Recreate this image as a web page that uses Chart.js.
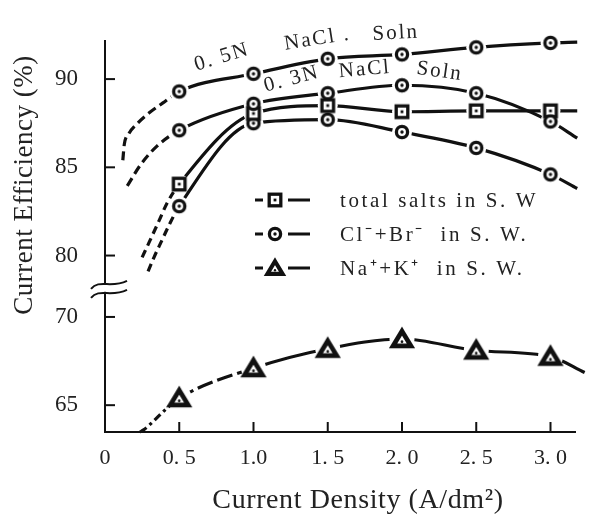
<!DOCTYPE html>
<html lang="en">
<head>
<meta charset="UTF-8" />
<title>Current Efficiency vs Current Density</title>
<style>
  * { margin: 0; padding: 0; }
  body { background: #fff; }
  .chartBox { width: 589px; height: 515px; }
</style>
</head>
<body>
<div class="chartBox"><canvas id="myChart"></canvas></div>

<script src="https://cdn.jsdelivr.net/npm/chart.js"></script>
<script>
// current density (A/dm2) of the measured points
const density = [0.5, 1.0, 1.5, 2.0, 2.5, 3.0];

// current efficiency (%)
const nacl05 = [89.3, 90.3, 91.15, 91.4, 91.8, 92.05];
const nacl03 = [87.1, 88.6, 89.2, 89.65, 89.2, 87.6];
const totalSalts = [84.05, 88.05, 88.5, 88.15, 88.2, 88.2];
const clBr = [82.8, 87.5, 87.7, 87.0, 86.1, 84.6];
const naK = [65.4, 67.1, 68.2, 68.75, 68.1, 67.75];

// where the drawn curves run on past the measured points [density, efficiency]
const nacl05Low = [[0.12, 85.4], [0.13, 86.3], [0.16, 86.9], [0.22, 87.5], [0.3, 88.1], [0.39, 88.65]];
const nacl05High = [[3.18, 92.1]];
const nacl03Low = [[0.15, 83.95], [0.24, 85.15], [0.35, 86.2]];
const nacl03High = [[3.18, 86.65]];
const totalLow = [[0.25, 79.9], [0.3, 80.8], [0.36, 81.9], [0.42, 83.0]];
const totalHigh = [[3.18, 88.2]];
const clBrLow = [[0.29, 79.1], [0.33, 79.9], [0.38, 80.8], [0.43, 81.7]];
const clBrHigh = [[3.18, 83.8]];
const naKLow = [[0.235, 63.48], [0.26, 63.6], [0.42, 64.85]];
const naKHigh = [[3.23, 66.85]];

// axis ticks
const xTicks = [0, 0.5, 1.0, 1.5, 2.0, 2.5, 3.0];
const xTickLabels = ["0", "0. 5", "1.0", "1. 5", "2. 0", "2. 5", "3. 0"];
const yTicks = [65, 70, 80, 85, 90];

// broken y axis: everything above the break is shifted down
const BREAK_SHIFT = 6.52;
const toAxis = (v) => (v > 75 ? v - BREAK_SHIFT : v);
const fromAxis = (d) => (d > 72 ? d + BREAK_SHIFT : d);

const INK = "#111";
const SERIF = '"Liberation Serif", "Times New Roman", serif';

// marker images: ring / box / triangle with a dot in the middle
function makeMarker(shape, s) {
  const c = document.createElement("canvas");
  c.width = c.height = Math.ceil(28 * s);
  const g = c.getContext("2d");
  const m = c.width / 2;
  g.strokeStyle = INK;
  g.fillStyle = "#fff";
  if (shape === "circle") {
    g.lineWidth = 3.3 * s;
    g.beginPath();
    g.arc(m, m, 5.6 * s, 0, Math.PI * 2);
    g.fill();
    g.stroke();
    g.fillStyle = INK;
    g.beginPath();
    g.arc(m, m, 1.7 * s, 0, Math.PI * 2);
    g.fill();
  } else if (shape === "square") {
    g.lineWidth = 3.3 * s;
    g.fillRect(m - 5.8 * s, m - 5.8 * s, 11.6 * s, 11.6 * s);
    g.strokeRect(m - 5.8 * s, m - 5.8 * s, 11.6 * s, 11.6 * s);
    g.fillStyle = INK;
    g.fillRect(m - 1.4 * s, m - 1.4 * s, 2.8 * s, 2.8 * s);
  } else {
    g.lineWidth = 4.5 * s;
    g.lineJoin = "miter";
    g.beginPath();
    g.moveTo(m, m - 7.5 * s);
    g.lineTo(m + 8.5 * s, m + 6.5 * s);
    g.lineTo(m - 8.5 * s, m + 6.5 * s);
    g.closePath();
    g.fill();
    g.stroke();
    g.fillStyle = INK;
    g.beginPath();
    g.arc(m, m + 2.5 * s, 1.3 * s, 0, Math.PI * 2);
    g.fill();
  }
  return c;
}

const circleImg = makeMarker("circle", 1);
const squareImg = makeMarker("square", 1);
const triImg = makeMarker("triangle", 1.05);
const triLegendImg = makeMarker("triangle", 0.9);

const pairs = (arr) => arr.map(([x, y]) => ({ x, y: toAxis(y) }));
const measured = (values) => density.map((x, i) => ({ x, y: toAxis(values[i]) }));

// one curve = line + white halo + marker
function curve(values, low, high, img, haloR, dashLow, dashMid) {
  return [
    {
      data: [...pairs(low), ...measured(values), ...pairs(high)],
      borderColor: INK,
      borderWidth: 3.2,
      pointRadius: 0,
      cubicInterpolationMode: "monotone",
      clip: false,
      order: 3,
      segment: {
        borderDash: (ctx) => {
          if (ctx.p1.parsed.x <= 0.5) return dashLow;
          if (dashMid && ctx.p1.parsed.x <= 1.0) return dashMid;
          return undefined;
        }
      }
    },
    {
      data: measured(values),
      showLine: false,
      pointRadius: haloR,
      pointBackgroundColor: "#fff",
      pointBorderWidth: 0,
      clip: false,
      order: 2
    },
    {
      data: measured(values),
      showLine: false,
      pointStyle: img,
      pointRadius: 6,
      clip: false,
      order: 1
    }
  ];
}

const datasets = [
  ...curve(nacl05, nacl05Low, nacl05High, circleImg, 10, [9, 5]),
  ...curve(nacl03, nacl03Low, nacl03High, circleImg, 10, [9, 5]),
  ...curve(totalSalts, totalLow, totalHigh, squareImg, 10, [8, 5]),
  ...curve(clBr, clBrLow, clBrHigh, circleImg, 10, [8, 5]),
  ...curve(naK, naKLow, naKHigh, triImg, 12.5, [8, 4, 3, 4], [16, 5])
];

// labels written along the NaCl curves [text, density, efficiency, angle]
const curveNotes = [
  ["0. 5N", 0.787, 91.24, -17],
  ["NaCl .", 1.43, 92.27, -9],
  ["Soln", 1.958, 92.6, -3],
  ["0. 3N", 1.258, 90.0, -15],
  ["NaCl", 1.75, 90.54, -5],
  ["Soln", 2.254, 90.43, 8]
];

const legendRows = [
  [squareImg, "total salts in S. W", 200],
  [circleImg, "Cl\u207B+Br\u207B  in S. W.", 234],
  [triLegendImg, "Na\u207A+K\u207A  in S. W.", 268]
];

// ticks pointing inward, axis break, titles, legend, curve notes
const decor = {
  id: "decor",
  afterDraw: (chart) => {
    const { ctx, chartArea: { left, bottom }, scales: { x, y } } = chart;
    ctx.save();
    ctx.strokeStyle = INK;
    ctx.lineWidth = 2;

    yTicks.forEach((v) => {
      const py = y.getPixelForValue(toAxis(v));
      ctx.beginPath();
      ctx.moveTo(left, py);
      ctx.lineTo(left + 10, py);
      ctx.stroke();
    });
    xTicks.slice(1).forEach((v) => {
      const px = x.getPixelForValue(v);
      ctx.beginPath();
      ctx.moveTo(px, bottom);
      ctx.lineTo(px, bottom - 10);
      ctx.stroke();
    });

    // break marks on the y axis
    const by = y.getPixelForValue(toAxis(78.4));
    const wave = (y0) => {
      ctx.moveTo(left - 14, y0 + 5);
      ctx.bezierCurveTo(left - 6, y0 - 5, left + 6, y0 + 5, left + 22, y0 - 3);
    };
    ctx.fillStyle = "#fff";
    ctx.fillRect(left - 4, by + 1, 8, 7);
    ctx.beginPath();
    wave(by);
    wave(by + 9);
    ctx.stroke();

    ctx.fillStyle = "#222";
    ctx.textAlign = "center";

    // axis titles
    ctx.font = "27px " + SERIF;
    ctx.save();
    ctx.translate(25, 185);
    ctx.rotate(-Math.PI / 2);
    ctx.textBaseline = "middle";
    ctx.letterSpacing = "0.5px";
    ctx.fillText("Current Efficiency (%)", 0, 0);
    ctx.restore();
    ctx.font = "28px " + SERIF;
    ctx.textBaseline = "alphabetic";
    ctx.letterSpacing = "0.6px";
    ctx.fillText("Current Density (A/dm\u00B2)", 358, 508);

    // legend
    ctx.font = "21px " + SERIF;
    ctx.textAlign = "left";
    ctx.textBaseline = "middle";
    ctx.letterSpacing = "2.6px";
    legendRows.forEach(([img, text, ry]) => {
      ctx.lineWidth = 3.2;
      ctx.beginPath();
      ctx.moveTo(255, ry);
      ctx.lineTo(263, ry);
      ctx.moveTo(288, ry);
      ctx.lineTo(310, ry);
      ctx.stroke();
      ctx.drawImage(img, 275 - img.width / 2, ry - img.height / 2);
      ctx.fillText(text, 340, ry + 1);
    });

    // notes along the NaCl curves
    ctx.textAlign = "center";
    ctx.letterSpacing = "2px";
    curveNotes.forEach(([text, dx, dv, ang]) => {
      ctx.save();
      ctx.translate(x.getPixelForValue(dx), y.getPixelForValue(toAxis(dv)));
      ctx.rotate((ang * Math.PI) / 180);
      ctx.fillText(text, 0, 0);
      ctx.restore();
    });
    ctx.restore();
  }
};

const config = {
  type: "line",
  data: { datasets },
  options: {
    responsive: true,
    maintainAspectRatio: false,
    animation: false,
    layout: { padding: { left: 0, top: 23, right: 14, bottom: 0 } },
    plugins: { legend: { display: false }, tooltip: { enabled: false } },
    scales: {
      x: {
        type: "linear",
        min: 0,
        max: 3.165,
        afterBuildTicks: (axis) => {
          axis.ticks = xTicks.map((v) => ({ value: v }));
        },
        afterFit: (s) => {
          s.height = 83;
        },
        ticks: {
          callback: (v, i) => xTickLabels[i],
          font: { family: SERIF, size: 22 },
          color: "#222",
          padding: 13,
          maxRotation: 0,
          autoSkip: false
        },
        grid: { display: false, drawTicks: false },
        border: { display: true, color: INK, width: 2 }
      },
      y: {
        type: "linear",
        min: 63.48,
        max: 85.65,
        afterBuildTicks: (axis) => {
          axis.ticks = yTicks.map((v) => ({ value: toAxis(v) }));
        },
        afterFit: (s) => {
          s.width = 105;
        },
        ticks: {
          callback: (v) => Math.round(fromAxis(v)),
          font: { family: SERIF, size: 23 },
          color: "#222",
          padding: 27
        },
        grid: { display: false, drawTicks: false },
        border: { display: true, color: INK, width: 2 }
      }
    }
  },
  plugins: [decor]
};

const myChart = new Chart(document.getElementById("myChart"), config);
</script>
</body>
</html>
